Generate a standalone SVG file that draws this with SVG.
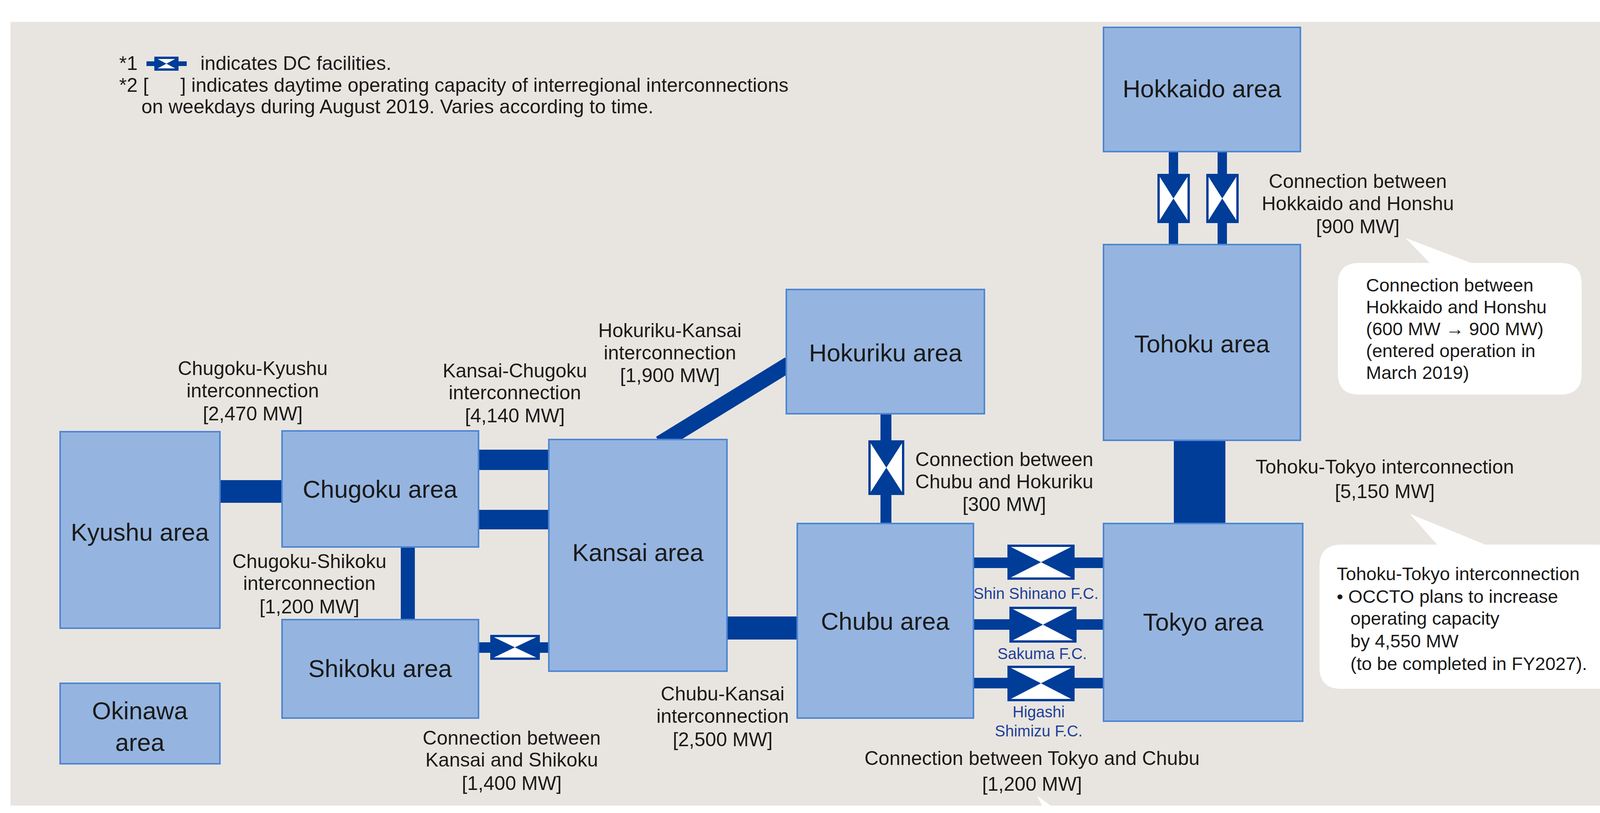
<svg xmlns="http://www.w3.org/2000/svg" width="4205" height="2081" viewBox="0 0 4205 2081">
<style>
text{font-family:"Liberation Sans",Arial,sans-serif;fill:#1a1a1a}
.box{fill:#95b5e0;stroke:#4f86d2;stroke-width:4}
.bl{font-size:63px;text-anchor:middle}
.lb{font-size:50px;text-anchor:middle}
.fc{font-size:40px;text-anchor:middle;fill:#1f3f99}
.co{font-size:47px}
.hd{font-size:50px}
.ln{fill:#003d99}
.dcw{fill:#fff;stroke:#003d99;stroke-width:6}
</style>
<rect width="4205" height="2081" fill="#fff"/>
<rect x="27" y="56" width="4166" height="2006" fill="#e8e5e0"/>

<g id="legend">
<text x="305" y="179" class="hd">*1</text>
<rect x="375" y="157" width="103" height="12" class="ln"/>
<rect x="398" y="148" width="56" height="30" class="dcw" stroke-width="4"/>
<polygon points="398,148 398,178 426,163" class="ln"/><polygon points="454,148 454,178 426,163" class="ln"/>
<text x="513" y="179" class="hd">indicates DC facilities.</text>
<text x="305" y="235" class="hd">*2 [</text>
<text x="462" y="235" class="hd">] indicates daytime operating capacity of interregional interconnections</text>
<text x="362" y="290" class="hd">on weekdays during August 2019. Varies according to time.</text>
</g>

<g id="connectors">
<rect x="561" y="1229" width="161" height="58" class="ln"/>
<rect x="1223" y="1151" width="185" height="52" class="ln"/>
<rect x="1223" y="1305" width="185" height="50" class="ln"/>
<rect x="1026" y="1400" width="36" height="186" class="ln"/>
<rect x="1223" y="1644" width="185" height="27" class="ln"/>
<rect x="1258" y="1628" width="121" height="58" class="dcw"/>
<polygon points="1258,1628 1258,1686 1318,1657" class="ln"/><polygon points="1379,1628 1379,1686 1318,1657" class="ln"/>
<rect x="1859" y="1578" width="184" height="59" class="ln"/>
<line x1="1690" y1="1135" x2="2020" y2="932" stroke="#003d99" stroke-width="40"/>
<rect x="2254" y="1059" width="28" height="281" class="ln"/>
<rect x="2226" y="1130" width="86" height="134" class="dcw"/>
<polygon points="2226,1130 2312,1130 2269,1197" class="ln"/><polygon points="2226,1264 2312,1264 2269,1197" class="ln"/>
<rect x="2992" y="388" width="24" height="238" class="ln"/>
<rect x="3117" y="388" width="24" height="238" class="ln"/>
<rect x="2966" y="448" width="77" height="120" class="dcw"/>
<polygon points="2966,448 3043,448 3004,508" class="ln"/><polygon points="2966,568 3043,568 3004,508" class="ln"/>
<rect x="3091" y="448" width="77" height="120" class="dcw"/>
<polygon points="3091,448 3168,448 3129,508" class="ln"/><polygon points="3091,568 3168,568 3129,508" class="ln"/>
<rect x="3005" y="1124" width="132" height="218" class="ln"/>
<rect x="2490" y="1427" width="335" height="27" class="ln"/>
<rect x="2582" y="1397" width="166" height="84" class="dcw"/>
<polygon points="2582,1397 2582,1481 2665,1439" class="ln"/><polygon points="2748,1397 2748,1481 2665,1439" class="ln"/>
<rect x="2490" y="1585" width="335" height="27" class="ln"/>
<rect x="2587" y="1556" width="166" height="86" class="dcw"/>
<polygon points="2587,1556 2587,1642 2670,1599" class="ln"/><polygon points="2753,1556 2753,1642 2670,1599" class="ln"/>
<rect x="2490" y="1735" width="335" height="27" class="ln"/>
<rect x="2582" y="1707" width="166" height="85" class="dcw"/>
<polygon points="2582,1707 2582,1792 2665,1749" class="ln"/><polygon points="2748,1707 2748,1792 2665,1749" class="ln"/>
</g>

<g id="hokkaido"><rect x="2825" y="70" width="504" height="318" class="box"/><text x="3077" y="249" class="bl">Hokkaido area</text></g>
<g id="tohoku"><rect x="2825" y="626" width="504" height="501" class="box"/><text x="3077" y="902" class="bl">Tohoku area</text></g>
<g id="tokyo"><rect x="2825" y="1340" width="510" height="506" class="box"/><text x="3080" y="1614" class="bl">Tokyo area</text></g>
<g id="chubu"><rect x="2041" y="1340" width="451" height="498" class="box"/><text x="2266" y="1612" class="bl">Chubu area</text></g>
<g id="hokuriku"><rect x="2013" y="741" width="507" height="318" class="box"/><text x="2267" y="925" class="bl">Hokuriku area</text></g>
<g id="kansai"><rect x="1405" y="1125" width="456" height="593" class="box"/><text x="1633" y="1436" class="bl">Kansai area</text></g>
<g id="chugoku"><rect x="722" y="1103" width="503" height="297" class="box"/><text x="973" y="1274" class="bl">Chugoku area</text></g>
<g id="shikoku"><rect x="722" y="1586" width="503" height="252" class="box"/><text x="973" y="1733" class="bl">Shikoku area</text></g>
<g id="kyushu"><rect x="154" y="1105" width="409" height="503" class="box"/><text x="358" y="1384" class="bl">Kyushu area</text></g>
<g id="okinawa"><rect x="154" y="1749" width="409" height="206" class="box"/><text x="358" y="1841" class="bl">Okinawa</text><text x="358" y="1922" class="bl">area</text></g>

<g id="labels">
<text class="lb"><tspan x="647" y="960">Chugoku-Kyushu</tspan><tspan x="647" y="1017">interconnection</tspan><tspan x="647" y="1076">[2,470 MW]</tspan></text>
<text class="lb"><tspan x="1318" y="966">Kansai-Chugoku</tspan><tspan x="1318" y="1022">interconnection</tspan><tspan x="1318" y="1081">[4,140 MW]</tspan></text>
<text class="lb"><tspan x="1715" y="863">Hokuriku-Kansai</tspan><tspan x="1715" y="920">interconnection</tspan><tspan x="1715" y="978">[1,900 MW]</tspan></text>
<text class="lb"><tspan x="792" y="1454">Chugoku-Shikoku</tspan><tspan x="792" y="1510">interconnection</tspan><tspan x="792" y="1570">[1,200 MW]</tspan></text>
<text class="lb"><tspan x="1310" y="1906">Connection between</tspan><tspan x="1310" y="1962">Kansai and Shikoku</tspan><tspan x="1310" y="2022">[1,400 MW]</tspan></text>
<text class="lb"><tspan x="1850" y="1793">Chubu-Kansai</tspan><tspan x="1850" y="1850">interconnection</tspan><tspan x="1850" y="1910">[2,500 MW]</tspan></text>
<text class="lb"><tspan x="2642" y="1958">Connection between Tokyo and Chubu</tspan><tspan x="2642" y="2024">[1,200 MW]</tspan></text>
<text class="lb"><tspan x="2571" y="1193">Connection between</tspan><tspan x="2571" y="1250">Chubu and Hokuriku</tspan><tspan x="2571" y="1308">[300 MW]</tspan></text>
<text class="lb"><tspan x="3545" y="1212">Tohoku-Tokyo interconnection</tspan><tspan x="3545" y="1275">[5,150 MW]</tspan></text>
<text class="lb"><tspan x="3476" y="481">Connection between</tspan><tspan x="3476" y="538">Hokkaido and Honshu</tspan><tspan x="3476" y="597">[900 MW]</tspan></text>
<text class="fc" x="2652" y="1533">Shin Shinano F.C.</text>
<text class="fc" x="2668" y="1687">Sakuma F.C.</text>
<text class="fc"><tspan x="2659" y="1836">Higashi</tspan><tspan x="2659" y="1885">Shimizu F.C.</tspan></text>
</g>

<g id="callout1">
<path d="M3480,673 H3660 L3598,609 L3766,673 H3995 Q4049,673 4049,727 V956 Q4049,1010 3995,1010 H3479 Q3425,1010 3425,956 V727 Q3425,673 3480,673 Z" fill="#fff"/>
<text class="co"><tspan x="3497" y="746">Connection between</tspan><tspan x="3497" y="802">Hokkaido and Honshu</tspan><tspan x="3497" y="858">(600 MW → 900 MW)</tspan><tspan x="3497" y="914">(entered operation in</tspan><tspan x="3497" y="970">March 2019)</tspan></text>
</g>
<g id="callout2">
<path d="M3435,1394 H3679 L3609,1315 L3802,1394 H4088 Q4143,1394 4143,1449 V1708 Q4143,1763 4088,1763 H3433 Q3378,1763 3378,1708 V1449 Q3378,1394 3435,1394 Z" fill="#fff"/>
<text class="co"><tspan x="3422" y="1485">Tohoku-Tokyo interconnection</tspan><tspan x="3422" y="1543">• OCCTO plans to increase</tspan><tspan x="3457" y="1599">operating capacity</tspan><tspan x="3457" y="1657">by 4,550 MW</tspan><tspan x="3457" y="1715">(to be completed in FY2027).</tspan></text>
</g>
<polygon points="2654,2036 2668,2062 2690,2062" fill="#fff"/>
</svg>
